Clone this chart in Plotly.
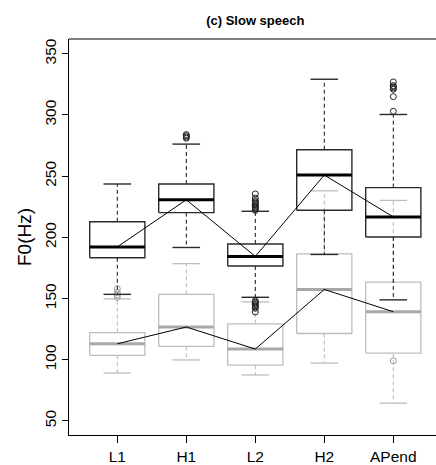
import plotly.graph_objects as go

# Syllable positions along the contour
categories = ["L1", "H1", "L2", "H2", "APend"]

# Upper series (five-number summaries, Hz)
hi_lower = [153.4, 191.7, 151.0, 186.0, 148.9]
hi_q1 = [183.3, 220.2, 176.6, 222.1, 200.3]
hi_median = [192.2, 230.7, 184.4, 250.9, 216.7]
hi_q3 = [212.7, 243.6, 194.6, 271.6, 240.6]
hi_upper = [243.6, 276.2, 221.3, 329.2, 300.4]
hi_outliers = [
    [],
    [281, 282, 283, 284],
    [222, 223, 224, 225, 226, 227, 228, 229, 230, 232, 235.5,
     148, 147, 146, 145, 144, 143, 142, 139],
    [],
    [303, 315, 321, 322, 323, 324, 327],
]

# Lower series (five-number summaries, Hz)
lo_lower = [89.1, 99.8, 87.5, 97.2, 64.5]
lo_q1 = [103.6, 110.9, 95.5, 121.4, 105.3]
lo_median = [113.0, 126.7, 108.7, 157.4, 139.2]
lo_q3 = [122.2, 153.4, 129.2, 186.5, 163.4]
lo_upper = [149.7, 178.5, 147.2, 238.0, 230.2]
lo_outliers = [
    [151, 153, 155, 158],
    [],
    [],
    [],
    [99],
]

y_ticks = [50, 100, 150, 200, 250, 300, 350]

BOX_HALF = 0.4
CAP_HALF = 0.2
positions = list(range(1, len(categories) + 1))


def box_traces(lower, q1, med, q3, upper, outliers, border, med_col, whisk_col, out_col, bw):
    rx, ry, mx, my, wx, wy, cx, cy, ox, oy = [], [], [], [], [], [], [], [], [], []
    for p, lw, a, m, b, up, outs in zip(positions, lower, q1, med, q3, upper, outliers):
        l, r = p - BOX_HALF, p + BOX_HALF
        rx += [l, r, r, l, l, None]
        ry += [a, a, b, b, a, None]
        mx += [l, r, None]
        my += [m, m, None]
        wx += [p, p, None, p, p, None]
        wy += [b, up, None, a, lw, None]
        cx += [p - CAP_HALF, p + CAP_HALF, None, p - CAP_HALF, p + CAP_HALF, None]
        cy += [up, up, None, lw, lw, None]
        ox += [p] * len(outs)
        oy += list(outs)
    common = dict(mode="lines", hoverinfo="skip", showlegend=False)
    return [
        go.Scatter(x=wx, y=wy, line=dict(color=whisk_col, width=1, dash="4px,3px"), **common),
        go.Scatter(x=cx, y=cy, line=dict(color=border, width=bw), **common),
        go.Scatter(x=rx, y=ry, line=dict(color=border, width=bw), **common),
        go.Scatter(x=mx, y=my, line=dict(color=med_col, width=3), **common),
        go.Scatter(x=ox, y=oy, mode="markers", hoverinfo="skip", showlegend=False,
                   marker=dict(symbol="circle-open", size=6, color=out_col,
                               line=dict(width=1, color=out_col))),
    ]


fig = go.Figure()
for t in box_traces(lo_lower, lo_q1, lo_median, lo_q3, lo_upper, lo_outliers,
                    "#bdbdbd", "#a8a8a8", "#b5b5b5", "#9a9a9a", 1.3):
    fig.add_trace(t)
for t in box_traces(hi_lower, hi_q1, hi_median, hi_q3, hi_upper, hi_outliers,
                    "#2a2a2a", "#000000", "#111111", "#222222", 1.4):
    fig.add_trace(t)

# Median contours
for med in (lo_median, hi_median):
    fig.add_trace(go.Scatter(x=positions, y=med, mode="lines", hoverinfo="skip",
                             showlegend=False, line=dict(color="#000000", width=1)))

W, H = 436, 465
ML, MT, MB = 69, 39, 25
plot_w = W - ML
x_lo = 0.3
x_hi = x_lo + plot_w / 69.0
R_center = (ML + ML + 5.4 * 69) / 2  # centre of the full 0.3..5.7 region

font = "Liberation Sans, Arial, Helvetica, sans-serif"
tick_font = dict(size=15.5, family=font, color="#000000")
fig.update_layout(
    width=W, height=H, autosize=False,
    margin=dict(l=ML, r=0, t=MT, b=MB, pad=0),
    plot_bgcolor="white", paper_bgcolor="white",
    font=dict(family=font, color="#000000"),
    title=dict(text="<b>(c) Slow speech</b>", font=dict(size=13, family=font, color="#000000"),
               x=(R_center - ML) / plot_w, xref="paper", xanchor="center",
               y=1 - 20.7 / H, yref="container", yanchor="middle"),
    xaxis=dict(range=[x_lo, x_hi], tickvals=positions, ticktext=categories,
               showgrid=False, zeroline=False, showline=True, linecolor="black",
               linewidth=1, ticks="outside", ticklen=7, tickcolor="black",
               tickfont=tick_font),
    yaxis=dict(range=[38.45, 362.1], tickvals=y_ticks, ticktext=[str(v) for v in y_ticks],
               tickangle=-90, showgrid=False, zeroline=False, showline=True,
               linecolor="black", linewidth=1, ticks="outside", ticklen=6,
               tickcolor="black", tickfont=tick_font,
               title=dict(text="F0(Hz)", font=dict(size=19, family=font, color="#000000"),
                          standoff=5)),
    shapes=[dict(type="line", xref="paper", yref="paper", x0=0, x1=1, y0=1, y1=1,
                 line=dict(color="black", width=1))],
)

fig.write_html("out.html")
